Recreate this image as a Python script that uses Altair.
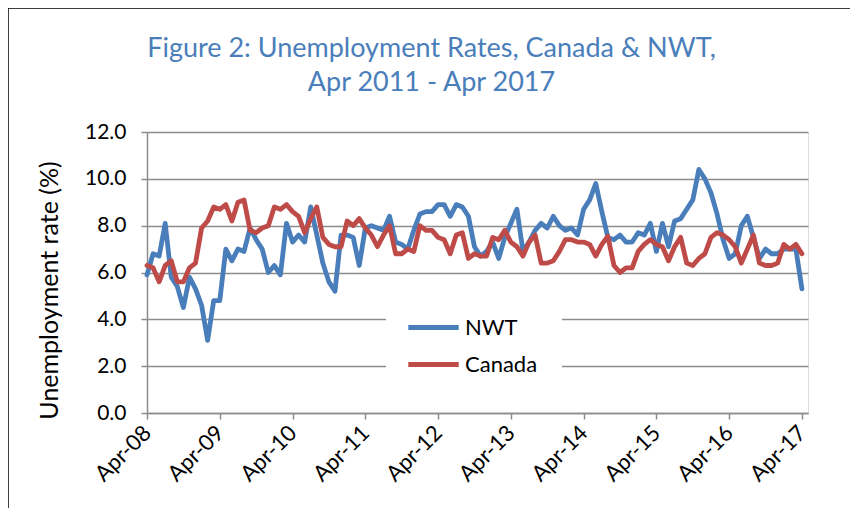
import altair as alt
import pandas as pd

# ---- data ----
tick_labels = ["Apr-08", "Apr-09", "Apr-10", "Apr-11", "Apr-12",
               "Apr-13", "Apr-14", "Apr-15", "Apr-16", "Apr-17"]

nwt = [5.9, 6.8, 6.7, 8.1, 5.8, 5.4, 4.5, 5.8, 5.3, 4.6, 3.1, 4.8,
       4.8, 7.0, 6.5, 7.0, 6.9, 7.9, 7.4, 7.0, 6.0, 6.3, 5.9, 8.1,
       7.3, 7.6, 7.3, 8.8, 7.6, 6.4, 5.6, 5.2, 7.6, 7.6, 7.5, 6.3,
       7.9, 8.0, 7.9, 7.8, 8.4, 7.3, 7.2, 7.0, 7.8, 8.5, 8.6, 8.6,
       8.9, 8.9, 8.4, 8.9, 8.8, 8.4, 7.1, 6.7, 6.9, 7.3, 6.6, 7.5,
       8.1, 8.7, 6.9, 7.3, 7.8, 8.1, 7.9, 8.4, 8.0, 7.8, 7.9, 7.6,
       8.7, 9.1, 9.8, 8.6, 7.5, 7.4, 7.6, 7.3, 7.3, 7.7, 7.6, 8.1,
       6.9, 8.1, 7.1, 8.2, 8.3, 8.7, 9.1, 10.4, 10.0, 9.4, 8.5, 7.4,
       6.6, 6.8, 8.0, 8.4, 7.5, 6.6, 7.0, 6.8, 6.8, 7.0, 7.0, 7.0,
       5.3]

canada = [6.3, 6.2, 5.6, 6.3, 6.5, 5.6, 5.6, 6.2, 6.4, 7.9, 8.2, 8.8,
          8.7, 8.9, 8.2, 9.0, 9.1, 7.8, 7.7, 7.9, 8.0, 8.8, 8.7, 8.9,
          8.6, 8.4, 7.7, 8.3, 8.8, 7.5, 7.2, 7.1, 7.1, 8.2, 8.0, 8.3,
          7.9, 7.6, 7.1, 7.6, 8.0, 6.8, 6.8, 7.0, 6.9, 8.0, 7.8, 7.8,
          7.5, 7.4, 6.8, 7.6, 7.7, 6.6, 6.8, 6.7, 6.7, 7.5, 7.4, 7.8,
          7.3, 7.1, 6.7, 7.3, 7.6, 6.4, 6.4, 6.5, 6.9, 7.4, 7.4, 7.3,
          7.3, 7.2, 6.7, 7.2, 7.55, 6.3, 6.0, 6.2, 6.2, 6.9, 7.2, 7.4,
          7.2, 7.1, 6.5, 7.1, 7.5, 6.4, 6.3, 6.6, 6.8, 7.5, 7.7, 7.6,
          7.4, 7.1, 6.4, 7.0, 7.6, 6.4, 6.3, 6.3, 6.4, 7.2, 7.0, 7.2,
          6.8]

series_names = ["NWT", "Canada"]
series_colors = ["#4A7EBB", "#BE4B48"]
title_lines = ["Figure 2: Unemployment Rates, Canada & NWT,", "Apr 2011 - Apr 2017"]

months = list(range(len(nwt)))
df = pd.DataFrame({
    "month": months + months,
    "rate": nwt + canada,
    "series": ["NWT"] * len(nwt) + ["Canada"] * len(canada),
    "order": [0] * len(nwt) + [1] * len(canada),
})

FONT = "Lato"
GRID = "#8c8c8c"

label_expr = "[" + ",".join("'%s'" % t for t in tick_labels) + "][round(datum.value/12)]"

lines = alt.Chart(df).mark_line(strokeWidth=4.8, strokeJoin="round", strokeCap="round").encode(
    x=alt.X("month:Q",
            scale=alt.Scale(domain=[0, 109], nice=False, zero=False),
            axis=alt.Axis(values=list(range(0, 109, 12)), labelExpr=label_expr,
                          title=None, grid=False, labelAngle=-45,
                          labelAlign="right", labelBaseline="middle",
                          labelFontSize=22, labelFont=FONT, labelColor="#000000",
                          labelPadding=10, tickSize=6, tickColor=GRID, tickWidth=1.5,
                          domainColor=GRID, domainWidth=1.5, labelFlush=False,
                          labelOverlap=False)),
    y=alt.Y("rate:Q",
            scale=alt.Scale(domain=[0, 12], nice=False),
            axis=alt.Axis(values=[0, 2, 4, 6, 8, 10, 12], format=".1f",
                          title="Unemployment rate (%)", titleFont=FONT,
                          titleFontSize=25, titleFontWeight="normal",
                          titleColor="#000000", titlePadding=22, titleY=158,
                          labelFontSize=21, labelFont=FONT, labelColor="#000000",
                          labelPadding=15, tickSize=6, tickColor=GRID, tickWidth=1.5,
                          gridColor=GRID, gridWidth=1.5,
                          domainColor=GRID, domainWidth=1.5)),
    color=alt.Color("series:N",
                    scale=alt.Scale(domain=series_names, range=series_colors),
                    legend=alt.Legend(title=None, orient="none",
                                      legendX=239, legendY=148,
                                      fillColor="#ffffff", padding=24,
                                      symbolType="M-1.2,0L1.2,0",
                                      symbolSize=1764, symbolStrokeWidth=4.8,
                                      labelFont=FONT, labelFontSize=22,
                                      labelColor="#000000", labelOffset=8,
                                      rowPadding=2)),
    order=alt.Order("order:Q"),
)

border = alt.Chart(pd.DataFrame({"k": [0]})).mark_rect(
    fillOpacity=0, stroke="#000000", strokeWidth=1.5
).encode(
    x=alt.value(-139), x2=alt.value(705), y=alt.value(-124), y2=alt.value(420)
)

chart = alt.layer(lines, border).properties(
    width=661, height=281,
    padding={"left": 139, "top": 124, "right": 42, "bottom": 95},
    autosize=alt.AutoSizeParams(type="none"),
    title=alt.TitleParams(
        text=title_lines,
        color="#4A7EBB", font=FONT, fontSize=27, fontWeight="normal",
        anchor="middle", dx=-46, offset=0, dy=90, lineHeight=34),
).configure_view(stroke=None).configure(background="#ffffff")

chart.save("out.html", embed_options={"renderer": "svg", "actions": False})
